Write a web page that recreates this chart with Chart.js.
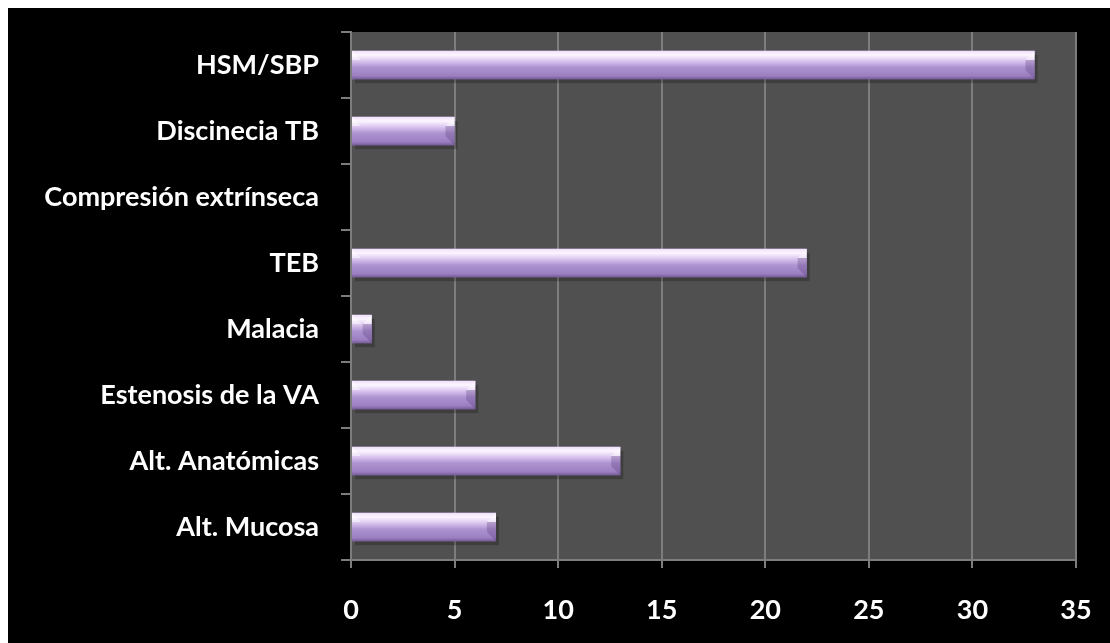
<!DOCTYPE html>
<html>
<head>
<meta charset="utf-8">
<script src="https://cdn.jsdelivr.net/npm/chart.js@4.4.1/dist/chart.umd.min.js"></script>
<style>
  html, body { margin: 0; padding: 0; background: #ffffff; }
  #wrap { position: absolute; left: 8px; top: 8px; width: 1102px; height: 635px; background: #000000; }
</style>
</head>
<body>
<div id="wrap"><canvas id="barChart" width="1102" height="635"></canvas></div>
<script>
const categories = [
  "HSM/SBP",
  "Discinecia TB",
  "Compresión extrínseca",
  "TEB",
  "Malacia",
  "Estenosis de la VA",
  "Alt. Anatómicas",
  "Alt. Mucosa",
];
const counts = [33, 5, 0, 22, 1, 6, 13, 7];
const xTicks = [0, 5, 10, 15, 20, 25, 30, 35];

const ctx = document.getElementById("barChart");

// grey panel behind the bars
const plotBackground = {
  id: "plotBackground",
  beforeDraw(chart) {
    const { ctx, chartArea: a } = chart;
    ctx.save();
    ctx.fillStyle = "#505050";
    ctx.fillRect(a.left, a.top, a.right - a.left, a.bottom - a.top);
    ctx.restore();
  },
};

// glossy bevelled look on top of each bar
const barGloss = {
  id: "barGloss",
  afterDatasetsDraw(chart) {
    const c = chart.ctx;
    const meta = chart.getDatasetMeta(0);
    meta.data.forEach((bar) => {
      const left = Math.min(bar.base, bar.x);
      const right = Math.max(bar.base, bar.x);
      const w = right - left;
      if (w < 1) return;
      const top = bar.y - bar.height / 2;
      const h = bar.height;
      c.save();
      // soft shadow
      c.fillStyle = "rgba(0,0,0,0.22)";
      c.fillRect(left + 3, top + 4, w, h);
      const g = c.createLinearGradient(0, top, 0, top + h);
      g.addColorStop(0, "#efe0f9");
      g.addColorStop(0.15, "#fcf5ff");
      g.addColorStop(0.38, "#d6c0ec");
      g.addColorStop(0.58, "#ae93d1");
      g.addColorStop(0.88, "#9b7fc1");
      g.addColorStop(1, "#765a98");
      c.fillStyle = g;
      c.fillRect(left, top, w, h);
      const b = Math.min(h * 0.32, w / 2);
      // light triangles at the top corners
      c.fillStyle = "rgba(255,255,255,0.45)";
      c.beginPath();
      c.moveTo(left, top);
      c.lineTo(left + b, top + b);
      c.lineTo(left, top + b);
      c.closePath();
      c.fill();
      c.beginPath();
      c.moveTo(right, top);
      c.lineTo(right - b, top + b);
      c.lineTo(right, top + b);
      c.closePath();
      c.fill();
      // darker right edge
      c.fillStyle = "rgba(80,50,115,0.28)";
      c.beginPath();
      c.moveTo(right, top + b);
      c.lineTo(right - b, top + b);
      c.lineTo(right - b, top + h - b);
      c.lineTo(right, top + h);
      c.closePath();
      c.fill();
      c.restore();
    });
  },
};

new Chart(ctx, {
  type: "bar",
  data: {
    labels: categories,
    datasets: [
      {
        data: counts,
        backgroundColor: "#a68bc9",
        borderWidth: 0,
        barPercentage: 0.86,
        categoryPercentage: 0.5,
      },
    ],
  },
  options: {
    indexAxis: "y",
    responsive: false,
    animation: false,
    layout: { padding: { top: 24, right: 34, left: 0, bottom: 0 } },
    plugins: {
      legend: { display: false },
      tooltip: { enabled: false },
    },
    scales: {
      x: {
        min: 0,
        max: 35,
        afterBuildTicks(scale) {
          scale.ticks = xTicks.map((v) => ({ value: v }));
        },
        afterFit(scale) {
          scale.height = 83;
          scale.paddingLeft = 0;
          scale.paddingRight = 0;
        },
        grid: {
          color: "#7d7d7d",
          lineWidth: 2,
          tickLength: 8,
          drawOnChartArea: true,
        },
        border: { color: "#7d7d7d", width: 2 },
        ticks: {
          color: "#ffffff",
          padding: 26,
          maxRotation: 0,
          font: { family: "Lato", weight: "bold", size: 27 },
        },
      },
      y: {
        afterFit(scale) {
          scale.width = 343;
          scale.paddingTop = 0;
          scale.paddingBottom = 0;
        },
        grid: {
          color: "#7d7d7d",
          lineWidth: 2,
          tickLength: 10,
          drawOnChartArea: false,
          offset: true,
        },
        border: { color: "#7d7d7d", width: 2 },
        ticks: {
          color: "#ffffff",
          padding: 22,
          font: { family: "Lato", weight: "bold", size: 27 },
        },
      },
    },
  },
  plugins: [plotBackground, barGloss],
});
</script>
</body>
</html>
